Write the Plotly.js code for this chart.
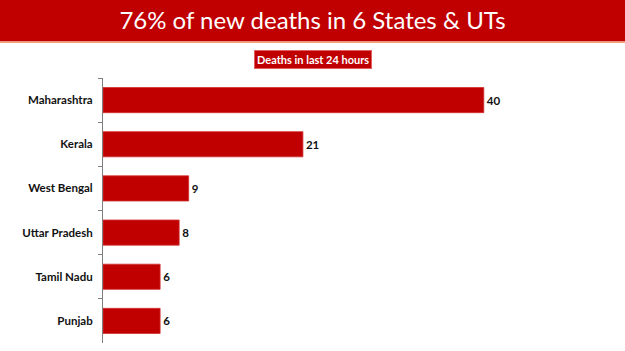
<!DOCTYPE html>
<html>
<head>
<meta charset="utf-8">
<script src="https://cdn.plot.ly/plotly-3.0.1.min.js"></script>
<style>html,body{margin:0;padding:0;background:#fff;}#chart{width:625px;height:351px;}</style>
</head>
<body>
<div id="chart"></div>
<script>
const states = ["Maharashtra", "Kerala", "West Bengal", "Uttar Pradesh", "Tamil Nadu", "Punjab"];
const deaths = [40, 21, 9, 8, 6, 6];
const titleText = "76% of new deaths in 6 States & UTs";
const subtitleText = "Deaths in last 24 hours";

const RED = "#C00000";

const trace = {
  type: "bar",
  orientation: "h",
  y: states,
  x: deaths,
  marker: { color: RED, line: { color: "#D23030", width: 0.8 } },
  width: 0.57,
  text: deaths.map(String),
  textposition: "outside",
  textfont: { family: "Lato, Open Sans, sans-serif", size: 11.5, color: "#111", weight: 700 },
  cliponaxis: false,
  hoverinfo: "none"
};

const layout = {
  width: 625, height: 351,
  margin: { l: 103, r: 46, t: 78, b: 8 },
  paper_bgcolor: "#fff",
  plot_bgcolor: "#fff",
  showlegend: false,
  title: {
    text: titleText,
    font: { family: "Lato, Open Sans, sans-serif", size: 24, color: "#fff" },
    x: 0.5, xanchor: "center",
    yref: "container", y: 1 - 21 / 351, yanchor: "middle"
  },
  xaxis: {
    range: [0, 50], visible: false, fixedrange: true
  },
  yaxis: {
    type: "category",
    autorange: "reversed",
    showline: true, linecolor: "#7f7f7f", linewidth: 1,
    ticks: "outside", ticklen: 4, tickcolor: "#7f7f7f",
    tickson: "boundaries",
    ticklabelstandoff: 7,
    showgrid: false, zeroline: false,
    tickfont: { family: "Lato, Open Sans, sans-serif", size: 11.5, color: "#111", weight: 700 }
  },
  shapes: [
    { type: "rect", xref: "paper", yref: "paper", layer: "below",
      x0: -103/476, x1: (625-103)/476, y0: 1 + 36.5/265, y1: 1 + 80/265,
      fillcolor: RED, line: { width: 0 } },
    { type: "rect", xref: "paper", yref: "paper", layer: "below",
      x0: -103/476, x1: (625-103)/476, y0: 1 + 35/265, y1: 1 + 36.5/265,
      fillcolor: "#F4A582", line: { width: 0 } }
  ],
  annotations: [
    { text: subtitleText, xref: "paper", yref: "paper",
      x: (313 - 103) / 476, y: 1 + (78 - 59) / 265,
      xanchor: "center", yanchor: "middle", showarrow: false,
      bgcolor: RED, bordercolor: "#E06060", borderwidth: 1, borderpad: 2,
      font: { family: "Lato, Open Sans, sans-serif", size: 11, color: "#fff", weight: 700 } }
  ]
};

Plotly.newPlot("chart", [trace], layout, { displayModeBar: false, staticPlot: true });
</script>
</body>
</html>
